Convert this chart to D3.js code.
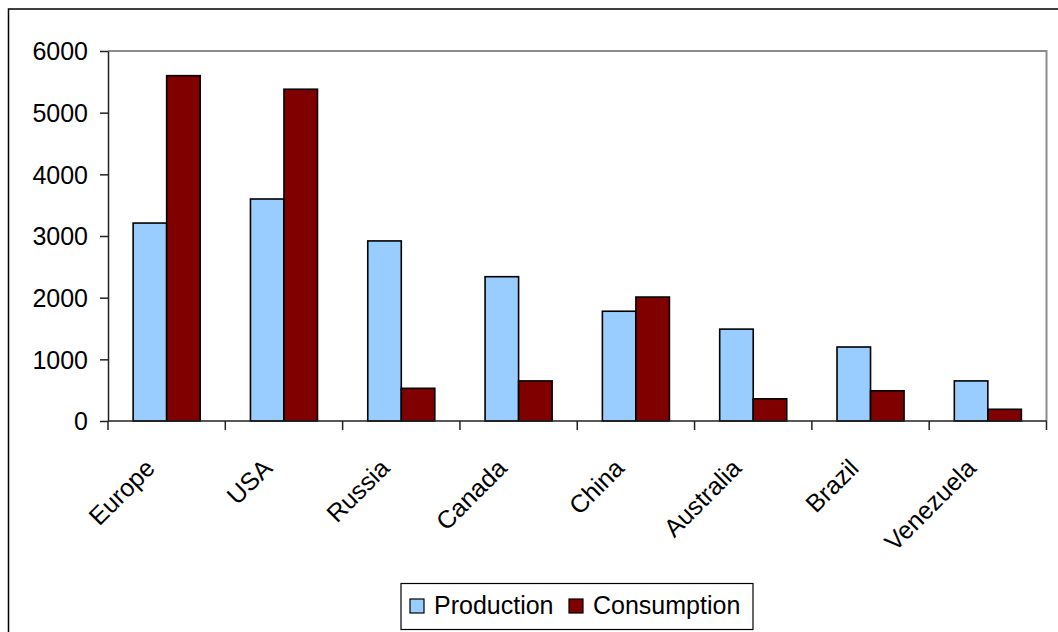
<!DOCTYPE html>
<html lang="en">
<head>
    <meta charset="UTF-8">
    <title>Production and Consumption</title>
    <script src="https://d3js.org/d3.v7.min.js"></script>
    <style>
        body {
            margin: 0;
            background: #fff;
            font-family: Arial, "Liberation Sans", sans-serif;
        }
        svg text {
            fill: #000;
        }
    </style>
</head>
<body>
    <script>
        // Data
        const categories = ["Europe", "USA", "Russia", "Canada", "China", "Australia", "Brazil", "Venezuela"];
        const seriesNames = ["Production", "Consumption"];
        const production = [3210, 3600, 2920, 2340, 1780, 1490, 1200, 650];
        const consumption = [5600, 5380, 530, 650, 2010, 360, 490, 190];
        const yTicks = [0, 1000, 2000, 3000, 4000, 5000, 6000];
        const colors = ["#99CCFF", "#800000"];

        const width = 1058;
        const height = 632;
        const plot = {left: 108, right: 1046.5, top: 51, bottom: 421};

        const svg = d3.select("body")
            .append("svg")
            .attr("width", width)
            .attr("height", height);

        // Outer chart frame (runs off the right and bottom edges)
        svg.append("rect")
            .attr("x", 8.5)
            .attr("y", 9)
            .attr("width", 1100)
            .attr("height", 700)
            .attr("fill", "none")
            .attr("stroke", "#000")
            .attr("stroke-width", 1.5);

        // Scales
        const x0 = d3.scaleBand()
            .domain(categories)
            .range([plot.left, plot.right])
            .padding(0);

        const x1 = d3.scaleBand()
            .domain(seriesNames)
            .range([0, x0.bandwidth()])
            .paddingInner(0)
            .paddingOuter(0.75);

        const y = d3.scaleLinear()
            .domain([0, 6000])
            .range([plot.bottom, plot.top]);

        // Plot area border (top and right, gray)
        svg.append("path")
            .attr("d", `M${plot.left},${plot.top}H${plot.right}V${plot.bottom}`)
            .attr("fill", "none")
            .attr("stroke", "#8c8c8c")
            .attr("stroke-width", 2);

        // Bars
        const rows = categories.map((c, i) => ({
            category: c,
            values: [production[i], consumption[i]]
        }));

        const groups = svg.selectAll("g.group")
            .data(rows)
            .enter()
            .append("g")
            .attr("class", "group")
            .attr("transform", d => `translate(${x0(d.category)},0)`);

        groups.selectAll("rect")
            .data(d => d.values.map((v, k) => ({series: seriesNames[k], value: v, k: k})))
            .enter()
            .append("rect")
            .attr("x", d => x1(d.series))
            .attr("y", d => y(d.value))
            .attr("width", x1.bandwidth())
            .attr("height", d => y(0) - y(d.value))
            .attr("fill", d => colors[d.k])
            .attr("stroke", "#000")
            .attr("stroke-width", 1.6);

        // Y axis
        const yAxis = d3.axisLeft(y)
            .tickValues(yTicks)
            .tickFormat(d3.format("d"))
            .tickSizeInner(8)
            .tickSizeOuter(0)
            .tickPadding(12);

        const yg = svg.append("g")
            .attr("transform", `translate(${plot.left},0)`)
            .call(yAxis);
        yg.select(".domain").attr("stroke", "#222").attr("stroke-width", 1.5);
        yg.selectAll(".tick line").attr("stroke", "#222").attr("stroke-width", 1.5);
        yg.selectAll(".tick text")
            .style("font-family", "Arial, 'Liberation Sans', sans-serif")
            .style("font-size", "25px")
            .attr("dy", "0.35em");

        // X axis line and ticks at category boundaries
        svg.append("line")
            .attr("x1", plot.left)
            .attr("x2", plot.right)
            .attr("y1", y(0))
            .attr("y2", y(0))
            .attr("stroke", "#222")
            .attr("stroke-width", 1.5);

        const edges = categories.map(c => x0(c)).concat([x0(categories[categories.length - 1]) + x0.bandwidth()]);
        svg.selectAll("line.xtick")
            .data(edges)
            .enter()
            .append("line")
            .attr("class", "xtick")
            .attr("x1", d => d)
            .attr("x2", d => d)
            .attr("y1", y(0))
            .attr("y2", y(0) + 9)
            .attr("stroke", "#222")
            .attr("stroke-width", 1.5);

        // Rotated category labels
        svg.selectAll("text.cat")
            .data(categories)
            .enter()
            .append("text")
            .attr("class", "cat")
            .attr("transform", d => `translate(${x0(d) + x0.bandwidth() / 2 - 23},${y(0) + 36}) rotate(-45)`)
            .attr("text-anchor", "end")
            .attr("dy", "0.72em")
            .style("font-size", "25px")
            .text(d => d);

        // Legend
        const legend = svg.append("g")
            .attr("transform", "translate(401,583.5)");

        legend.append("rect")
            .attr("width", 352)
            .attr("height", 46)
            .attr("fill", "#fff")
            .attr("stroke", "#000")
            .attr("stroke-width", 1.2);

        const legendX = [9, 168];
        const items = legend.selectAll("g.item")
            .data(seriesNames)
            .enter()
            .append("g")
            .attr("class", "item")
            .attr("transform", (d, i) => `translate(${legendX[i]},0)`);

        items.append("rect")
            .attr("x", 0)
            .attr("y", 15.5)
            .attr("width", 14)
            .attr("height", 14)
            .attr("fill", (d, i) => colors[i])
            .attr("stroke", "#000")
            .attr("stroke-width", 1.2);

        items.append("text")
            .attr("x", 24)
            .attr("y", 30)
            .style("font-size", "25px")
            .text(d => d);
    </script>
</body>
</html>
